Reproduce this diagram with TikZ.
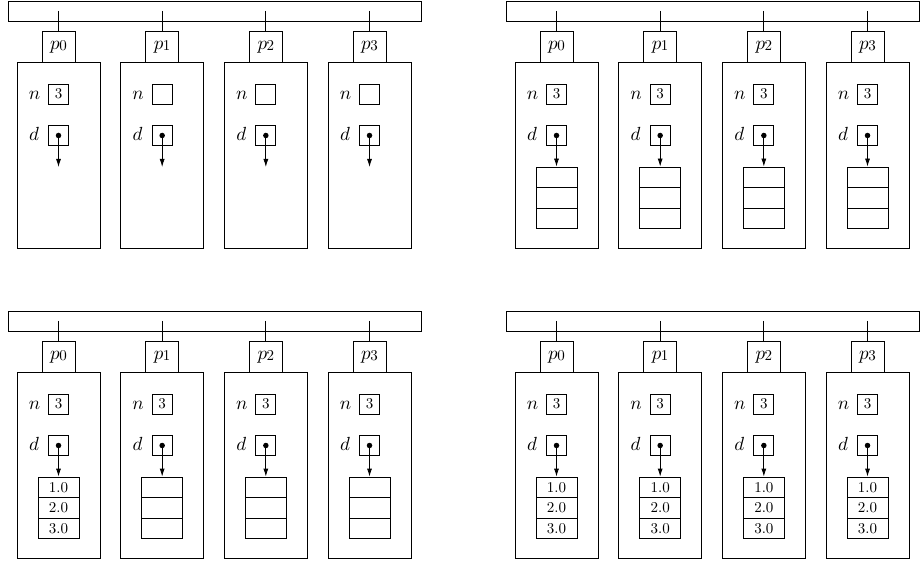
\documentclass[tikz,border=0pt]{standalone}
\usepackage{graphicx}
\usetikzlibrary{arrows.meta}
\tikzset{
  bus/.style={draw,minimum width=413pt,minimum height=20pt,inner sep=0pt,anchor=north west},
  pbox/.style={draw,minimum width=33pt,minimum height=31pt,inner sep=0pt},
  procbox/.style={draw,minimum width=83pt,minimum height=186pt,inner sep=0pt},
  valbox/.style={draw,minimum width=20pt,minimum height=20pt,inner sep=0pt},
  cell/.style={draw,minimum width=41pt,minimum height=20.5pt,inner sep=0pt},
  dotnode/.style={circle,fill,inner sep=0pt,minimum size=5.5pt},
  lbl/.style={inner sep=0pt},
  ptr/.style={-{Latex[length=8pt,width=5pt]}}
}
\newcommand\mth[1]{\scalebox{1.9}{$#1$}}
\newcommand\txt[1]{\scalebox{1.5}{#1}}
% #1 prefix, #2 panel x, #3 panel y, #4 index, #5 n value, #6 mode (0 none, 1 empty, 2 values)
\newcommand\myproc[6]{%
  \pgfmathsetmacro\cx{#2+58.5+103.67*#4}%
  \pgfmathsetmacro\cy{#3}%
  \node[procbox] (#1q#4) at (\cx,\cy+155) {};
  \node[pbox,fill=white] (#1p#4) at (\cx,\cy+46.5) {\mth{p}\kern-0.5pt\raisebox{-1pt}{\txt{#4}}};
  \coordinate (#1t#4) at (\cx,\cy+11);
  \draw (#1t#4) -- (#1p#4.north);
  \node[lbl] (#1nl#4) at (\cx-24,\cy+95.5) {\mth{n}};
  \node[valbox] (#1n#4) at (\cx,\cy+94) {\txt{#5}};
  \node[lbl] (#1dl#4) at (\cx-24.5,\cy+133.5) {\mth{d}};
  \node[valbox] (#1d#4) at (\cx,\cy+135.5) {};
  \node[dotnode] (#1dot#4) at (#1d#4.center) {};
  \ifcase#6\relax
    \coordinate (#1e#4) at (\cx,\cy+167);
    \draw[ptr] (#1dot#4.center) -- (#1e#4);
  \or
    \node[cell] (#1a#4) at (\cx,\cy+177.25) {};
    \node[cell] (#1b#4) at (\cx,\cy+197.75) {};
    \node[cell] (#1c#4) at (\cx,\cy+218.25) {};
    \draw[ptr] (#1dot#4.center) -- (#1a#4.north);
  \or
    \node[cell] (#1a#4) at (\cx,\cy+177.25) {\txt{1.0}};
    \node[cell] (#1b#4) at (\cx,\cy+197.75) {\txt{2.0}};
    \node[cell] (#1c#4) at (\cx,\cy+218.25) {\txt{3.0}};
    \draw[ptr] (#1dot#4.center) -- (#1a#4.north);
  \fi
}
\begin{document}
\begin{tikzpicture}[x=1pt,y=-1pt,line width=0.8pt]
\useasboundingbox (0,0) rectangle (921,561);
% top-left
\node[bus] (Abus) at (8,1) {};
\myproc{A}{0}{0}{0}{3}{0}
\myproc{A}{0}{0}{1}{}{0}
\myproc{A}{0}{0}{2}{}{0}
\myproc{A}{0}{0}{3}{}{0}
% top-right
\node[bus] (Bbus) at (506,1) {};
\myproc{B}{498}{0}{0}{3}{1}
\myproc{B}{498}{0}{1}{3}{1}
\myproc{B}{498}{0}{2}{3}{1}
\myproc{B}{498}{0}{3}{3}{1}
% bottom-left
\node[bus] (Cbus) at (8,311) {};
\myproc{C}{0}{310}{0}{3}{2}
\myproc{C}{0}{310}{1}{3}{1}
\myproc{C}{0}{310}{2}{3}{1}
\myproc{C}{0}{310}{3}{3}{1}
% bottom-right
\node[bus] (Dbus) at (506,311) {};
\myproc{D}{498}{310}{0}{3}{2}
\myproc{D}{498}{310}{1}{3}{2}
\myproc{D}{498}{310}{2}{3}{2}
\myproc{D}{498}{310}{3}{3}{2}
\end{tikzpicture}
\end{document}
